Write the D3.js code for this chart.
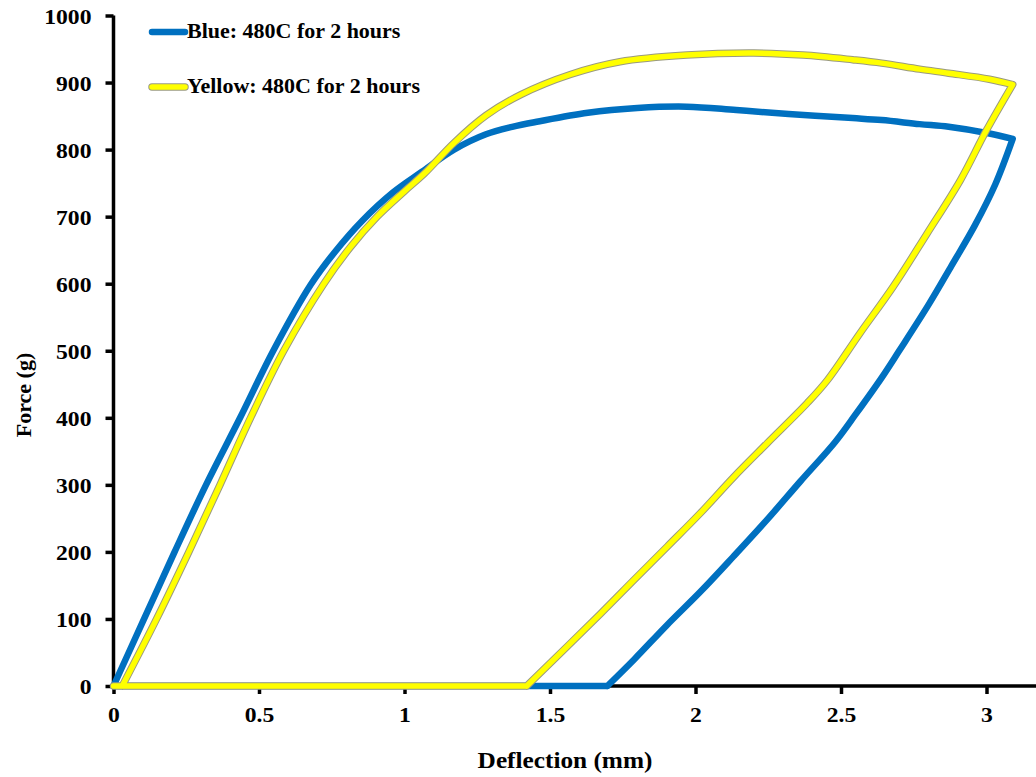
<!DOCTYPE html>
<html lang="en">
<head>
<meta charset="UTF-8">
<title>Force vs Deflection</title>
<script src="https://d3js.org/d3.v7.min.js"></script>
<style>
  html, body { margin: 0; padding: 0; background: #fff; }
  svg { display: block; overflow: hidden; }
  text { font-family: "Liberation Serif", "Times New Roman", serif; font-weight: bold; fill: #000; }
</style>
</head>
<body>
<div id="chart"></div>
<script>
// Blue loop: loading, unloading, back along zero
const blueX = [0, 0.105, 0.21, 0.318, 0.435, 0.549, 0.677, 0.76, 0.855, 0.96, 1.06, 1.17, 1.28, 1.37, 1.46, 1.63, 1.80, 1.97, 2.14, 2.32, 2.54, 2.64, 2.77, 2.87, 3.01, 3.09,
               3.03, 2.96, 2.88, 2.80, 2.70, 2.64, 2.55, 2.48, 2.36, 2.25, 2.13, 2.02, 1.90, 1.79, 1.697, 0];
const blueY = [0, 100, 200, 300, 400, 500, 598, 647, 694, 736, 767, 800, 823, 834, 842, 855, 862, 864, 859, 853, 847, 844, 838, 834, 824, 816,
               748, 687, 627, 568, 500, 460, 405, 364, 305, 250, 193, 142, 90, 40, 0, 0];

// Yellow loop
const yellowX = [0.03, 0.148, 0.259, 0.366, 0.471, 0.585, 0.723, 0.815, 0.906, 1.0, 1.07, 1.17, 1.28, 1.40, 1.57, 1.74, 1.97, 2.20, 2.37, 2.54, 2.64, 2.77, 2.87, 3.01, 3.09,
                 3.0, 2.911, 2.796, 2.68, 2.565, 2.453, 2.384, 2.246, 2.132, 2.017, 1.903, 1.788, 1.674, 1.42, 0];
const yellowY = [0, 100, 200, 300, 400, 500, 600, 655, 700, 738, 765, 810, 851, 882, 912, 931, 941, 944, 941, 934, 929, 920, 914, 905, 897,
                 829, 755, 675, 596, 526, 456, 422, 362, 312, 258, 208, 158, 108, 0, 0];

const xTicks = [0, 0.5, 1, 1.5, 2, 2.5, 3];
const yTicks = [0, 100, 200, 300, 400, 500, 600, 700, 800, 900, 1000];
const seriesNames = ["Blue: 480C for 2 hours", "Yellow: 480C for 2 hours"];
const xTitle = "Deflection (mm)";
const yTitle = "Force (g)";

const W = 1036, H = 777;
const SX = 1.1; // the source text is a little wide
const svg = d3.select("#chart").append("svg").attr("width", W).attr("height", H);

const x = d3.scaleLinear().domain([0, 3.2]).range([113.5, 113.5 + 291 * 3.2]);
const y = d3.scaleLinear().domain([0, 1000]).range([686, 15.5]);

// axes
const xAxis = svg.append("g").attr("transform", `translate(0,${y(0)})`)
  .call(d3.axisBottom(x).tickValues(xTicks).tickSize(8).tickPadding(13).tickFormat(d => d));
const yAxis = svg.append("g").attr("transform", `translate(${x(0)},0)`)
  .call(d3.axisLeft(y).tickValues(yTicks).tickSize(8).tickPadding(12).tickFormat(d => d));

[xAxis, yAxis].forEach(g => {
  g.select(".domain").attr("stroke", "#000").attr("stroke-width", 3.5);
  g.selectAll(".tick line").attr("stroke", "#000").attr("stroke-width", 3.5);
  g.selectAll(".tick text").style("font-size", "21.5px").style("font-family", '"Liberation Serif", serif')
    .style("font-weight", "bold").attr("transform", `scale(${SX},1)`);
});
xAxis.select(".domain").attr("d", `M${x(0)},0H${W + 10}`);
yAxis.select(".domain").attr("d", `M0,${y(1000)}V${y(0)}`);
yAxis.selectAll(".tick text").attr("dy", "0.35em");

// split each loop at its far corner and where it returns to zero, so the corners stay sharp
function pieces(xs, ys) {
  const pts = xs.map((v, i) => [v, ys[i]]);
  const iMax = d3.maxIndex(xs);
  let iZero = iMax;
  while (iZero < ys.length - 1 && ys[iZero] > 0) iZero++;
  return [pts.slice(0, iMax + 1), pts.slice(iMax, iZero + 1), pts.slice(iZero)];
}
const line = d3.line().x(d => x(d[0])).y(d => y(d[1])).curve(d3.curveCatmullRom.alpha(0.5));
const pathD = parts => parts.map(p => line(p)).join("");

const blueD = pathD(pieces(blueX, blueY));
const yellowD = pathD(pieces(yellowX, yellowY));

svg.append("path").attr("d", blueD)
  .attr("fill", "none").attr("stroke", "#0070C0").attr("stroke-width", 6.5)
  .attr("stroke-linejoin", "round").attr("stroke-linecap", "round");

svg.append("path").attr("d", yellowD)
  .attr("fill", "none").attr("stroke", "#9a9a80").attr("stroke-width", 7.5)
  .attr("stroke-linejoin", "round").attr("stroke-linecap", "round");
svg.append("path").attr("d", yellowD)
  .attr("fill", "none").attr("stroke", "#FFFF00").attr("stroke-width", 5.5)
  .attr("stroke-linejoin", "round").attr("stroke-linecap", "round");

// axis titles
svg.append("text").attr("transform", `translate(565,768) scale(${SX},1)`).attr("text-anchor", "middle")
  .style("font-size", "23px").text(xTitle);
svg.append("text").attr("transform", `translate(31,${395}) rotate(-90)`).attr("text-anchor", "middle")
  .style("font-size", "22px").text(yTitle);

// legend
const legend = svg.append("g");
const legColors = ["#0070C0", "#FFFF00"];
seriesNames.forEach((name, i) => {
  const ly = 32 + i * 55;
  if (i === 1) {
    legend.append("line").attr("x1", 152).attr("x2", 185).attr("y1", ly).attr("y2", ly)
      .attr("stroke", "#9a9a80").attr("stroke-width", 7.5).attr("stroke-linecap", "round");
  }
  legend.append("line").attr("x1", 152).attr("x2", 185).attr("y1", ly).attr("y2", ly)
    .attr("stroke", legColors[i]).attr("stroke-width", i === 1 ? 5.5 : 6.5).attr("stroke-linecap", "round");
  legend.append("text").attr("transform", `translate(187,${ly + 6}) scale(${SX},1)`)
    .style("font-size", "20px").text(name);
});
</script>
</body>
</html>
